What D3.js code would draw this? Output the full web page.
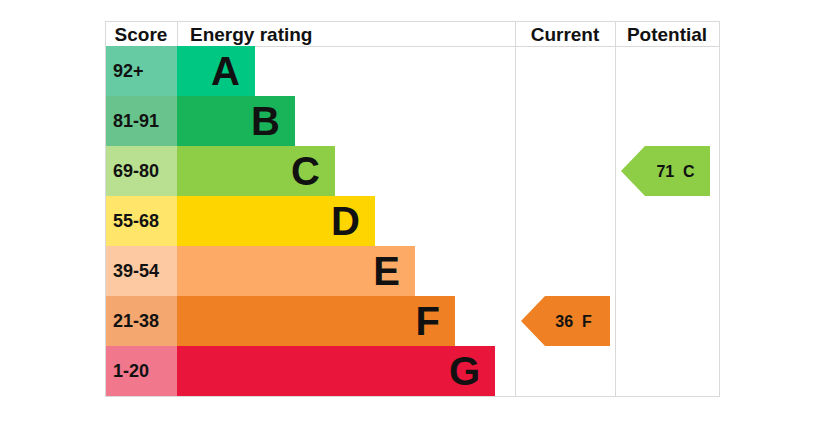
<!DOCTYPE html>
<html>
<head>
<meta charset="utf-8">
<script src="https://cdn.jsdelivr.net/npm/d3@7"></script>
<style>
 body{margin:0;background:#fff;}
 svg text{font-family:"Liberation Sans",Arial,sans-serif;font-weight:bold;fill:#111;}
</style>
</head>
<body>
<svg id="chart" width="823" height="421"></svg>
<script>
// band data
var letters=["A","B","C","D","E","F","G"];
var scores=["92+","81-91","69-80","55-68","39-54","21-38","1-20"];
var minScore=[92,81,69,55,39,21,1];
var barColors=["#00c781","#19b459","#8dce46","#ffd500","#fcaa65","#ef8023","#e9153b"];
var scoreColors=["#66caa2","#68c48c","#b9df90","#ffe56a","#fdc9a2","#f4a76e","#f0778c"];
var headers=["Score","Energy rating","Current","Potential"];
var current=36, potential=71;

var svg=d3.select("#chart");
var tLeft=105, tRight=719, tTop=21, tHead=46, tBottom=396;
var scoreW=177, curX=515, potX=615;

var y=d3.scaleBand().domain(letters).range([tHead,tBottom]);
var xEnd=d3.scaleLinear().domain([0,6]).range([255,495]);

function bandOf(v) {
  for(var i=0;i<minScore.length;i++) {
    if(v>=minScore[i]) return i;
  }
  return minScore.length-1;
}

// grid lines
var grid="#d9d9d9";
svg.append("rect").attr("x",tLeft+0.5).attr("y",tTop+0.5)
   .attr("width",tRight-tLeft).attr("height",tBottom-tTop)
   .style("fill","none").style("stroke",grid);
svg.append("line").attr("x1",tLeft).attr("x2",tRight).attr("y1",tHead+0.5).attr("y2",tHead+0.5)
   .style("stroke",grid);
[scoreW,curX,potX].forEach(function(x,i){
  svg.append("line").attr("x1",x+0.5).attr("x2",x+0.5)
     .attr("y1",tTop).attr("y2",i==0?tHead:tBottom).style("stroke",grid);
});

// header texts
var hx=[(tLeft+scoreW)/2,190,(curX+potX)/2,(potX+tRight)/2];
var ha=["middle","start","middle","middle"];
svg.selectAll("text.hdr").data(headers).enter().append("text")
   .attr("class","hdr")
   .attr("x",function(d,i){return hx[i];})
   .attr("y",tTop+20)
   .attr("text-anchor",function(d,i){return ha[i];})
   .style("font-size","19px")
   .text(function(d){return d;});

// score cells
svg.selectAll("rect.sc").data(letters).enter().append("rect")
   .attr("x",tLeft+1).attr("y",function(d){return y(d);})
   .attr("width",scoreW-tLeft-1).attr("height",y.bandwidth())
   .style("fill",function(d,i){return scoreColors[i];});
svg.selectAll("text.sc").data(scores).enter().append("text")
   .attr("x",113).attr("y",function(d,i){return y(letters[i])+y.bandwidth()/2+6;})
   .style("font-size","18px")
   .text(function(d){return d;});

// bars
svg.selectAll("rect.bar").data(letters).enter().append("rect")
   .attr("x",scoreW).attr("y",function(d){return y(d);})
   .attr("width",function(d,i){return xEnd(i)-scoreW;}).attr("height",y.bandwidth())
   .style("fill",function(d,i){return barColors[i];});
svg.selectAll("text.bar").data(letters).enter().append("text")
   .attr("x",function(d,i){return xEnd(i)-15;})
   .attr("y",function(d){return y(d)+y.bandwidth()/2+14;})
   .attr("text-anchor","end")
   .style("font-size","40px")
   .text(function(d){return d;});

// arrows
function addArrow(val,x0,x1,dx) {
  var i=bandOf(val), l=letters[i];
  var t=y(l), h=y.bandwidth(), notch=24;
  var pts=[[x0,t+h/2],[x0+notch,t],[x1,t],[x1,t+h],[x0+notch,t+h]];
  svg.append("path").attr("d",d3.line()(pts)+"Z").style("fill",barColors[i]);
  svg.append("text").attr("x",(x0+notch+x1)/2+dx).attr("y",t+h/2+6)
     .attr("text-anchor","middle").style("font-size","16px")
     .attr("xml:space","preserve")
     .text(val+"  "+l);
}
addArrow(current,521,610,-4);
addArrow(potential,621,710,-2);
</script>
</body>
</html>
